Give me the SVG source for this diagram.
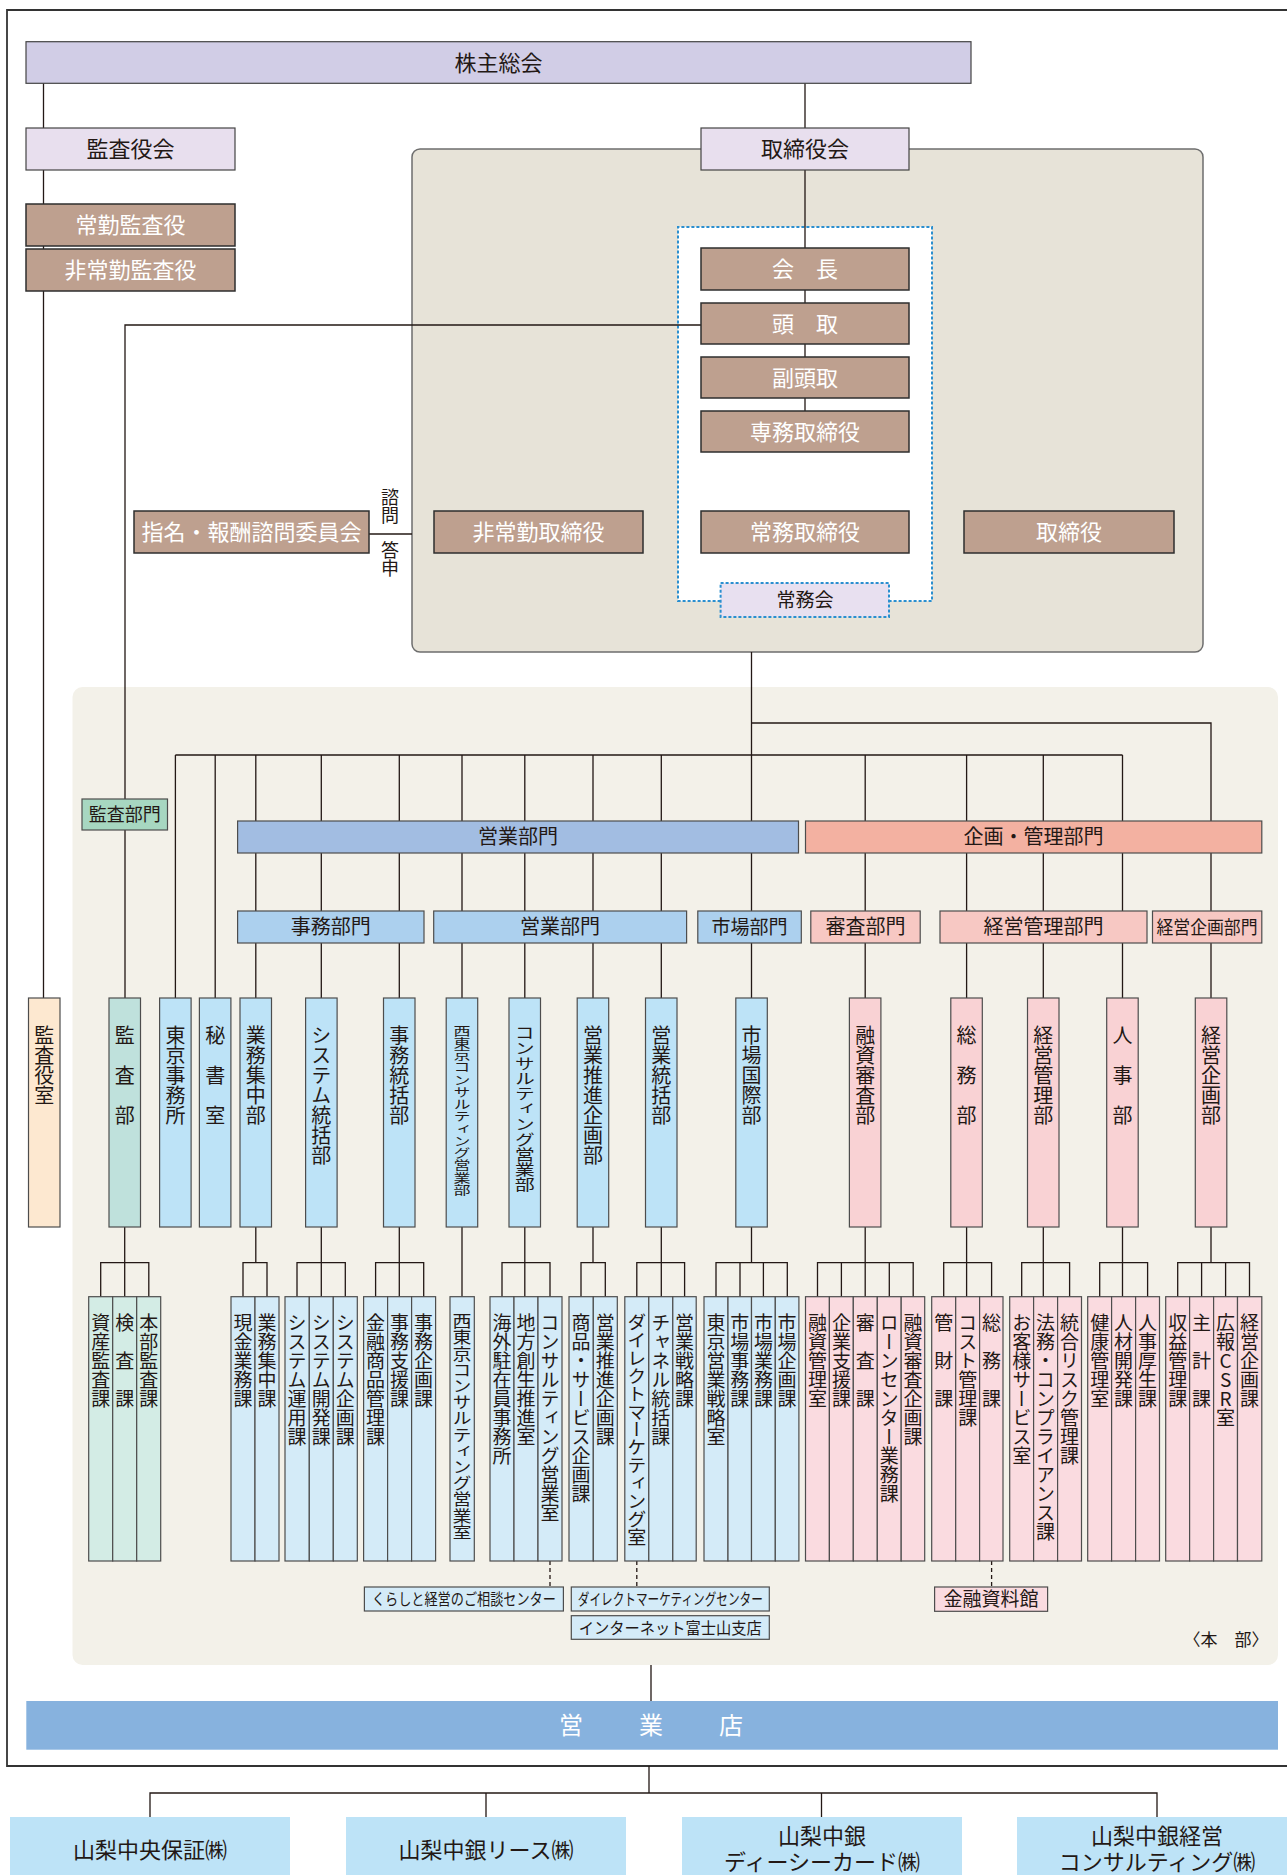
<svg xmlns="http://www.w3.org/2000/svg" width="1287" height="1875" viewBox="0 0 1287 1875">
<style>
text{font-family:"Noto Sans CJK JP","Noto Sans CJK SC",sans-serif;fill:#231815}
.h{text-anchor:middle}
.w{fill:#fff}
.t22{font-size:22px}
.t20{font-size:20px}
.v{writing-mode:vertical-rl;text-orientation:upright}
.d{font-size:20px}
.s{font-size:19px}
.ln{fill:none;stroke:#231815;stroke-width:1.3}
.dash{fill:none;stroke:#231815;stroke-width:1.3;stroke-dasharray:4 3}
.brown{fill:#bea08f;stroke:#2e2e2e;stroke-width:1.5}
.lav{fill:#e8dfee;stroke:#444;stroke-width:1.2}
.lav2{fill:#d1cde6;stroke:#444;stroke-width:1.2}
.bd{fill:#bde3f7;stroke:#4d4d4d;stroke-width:1.2}
.pd{fill:#f9d2d4;stroke:#4d4d4d;stroke-width:1.2}
.td{fill:#bfe1dc;stroke:#4d4d4d;stroke-width:1.2}
.ed{fill:#fde8d0;stroke:#4d4d4d;stroke-width:1.2}
.bs{fill:#d4ebf8;stroke:#4d4d4d;stroke-width:1.2}
.ps{fill:#fadbe0;stroke:#4d4d4d;stroke-width:1.2}
.ts{fill:#d3ece5;stroke:#4d4d4d;stroke-width:1.2}
.bl{fill:#acd0ee;stroke:#4d4d4d;stroke-width:1.2}
.pl{fill:#f7c8c3;stroke:#4d4d4d;stroke-width:1.2}
.sub{fill:#bde3f7}
</style>
<rect width="1287" height="1875" fill="#fff"/>
<!-- frame and panels -->
<g id="background">
<path d="M1300 10 H7 V1766 H1300" fill="none" stroke="#333" stroke-width="1.8"/>
<rect x="412" y="149" width="791" height="503" rx="8" fill="#e7e3d8" stroke="#6e6e6e" stroke-width="1.5"/>
<rect x="678" y="227" width="254" height="374" fill="#fff"/>
<path d="M720.6 601 H678 V227 H932 V601 H889" fill="none" stroke="#2a8fd0" stroke-width="2" stroke-dasharray="3 2"/>
<rect x="72.5" y="687" width="1205.5" height="978" rx="10" fill="#f3f1e9"/>
</g>
<g id="connectors">
<path class="ln" d="M43.5 83 V998 M805 83 V411 M701 325 H125 V998"/>
<path class="ln" d="M369 534 H412" stroke-width="2.5"/>
<path class="ln" d="M751.5 652 V998 M751.5 723 H1211 V998 M175.4 755 H1122.5 M175.4 755 V998 M215.2 755 V998 M255.8 755 V998 M321.3 755 V998 M399.3 755 V998 M462 755 V998 M524.8 755 V998 M593 755 V998 M661.3 755 V998 M865.2 755 V998 M966.6 755 V998 M1043.3 755 V998 M1122.5 755 V998"/>
<!-- section brackets -->
<path class="ln" d="M124.7 1227 V1296.7 M100.7 1296.7 V1262.7 H148.8 V1296.7"/>
<path class="ln" d="M255.8 1227 V1262.7 M243 1296.7 V1262.7 H267 V1296.7"/>
<path class="ln" d="M321.3 1227 V1296.7 M297 1296.7 V1262.7 H345.3 V1296.7"/>
<path class="ln" d="M399.3 1227 V1296.7 M375.6 1296.7 V1262.7 H423.7 V1296.7"/>
<path class="ln" d="M462 1227 V1296.7"/>
<path class="ln" d="M524.8 1227 V1296.7 M502 1296.7 V1262.7 H550 V1296.7"/>
<path class="ln" d="M593 1227 V1262.7 M581 1296.7 V1262.7 H605.3 V1296.7"/>
<path class="ln" d="M661.3 1227 V1296.7 M636.8 1296.7 V1262.7 H684.6 V1296.7"/>
<path class="ln" d="M751.5 1227 V1262.7 M716 1296.7 V1262.7 H787.3 V1296.7 M740 1262.7 V1296.7 M763.4 1262.7 V1296.7"/>
<path class="ln" d="M865.2 1227 V1296.7 M817.5 1296.7 V1262.7 H913.2 V1296.7 M841.4 1262.7 V1296.7 M889.3 1262.7 V1296.7"/>
<path class="ln" d="M966.6 1227 V1296.7 M943.7 1296.7 V1262.7 H991.6 V1296.7"/>
<path class="ln" d="M1043.3 1227 V1296.7 M1021.7 1296.7 V1262.7 H1069.6 V1296.7"/>
<path class="ln" d="M1122.5 1227 V1296.7 M1099.7 1296.7 V1262.7 H1147.6 V1296.7"/>
<path class="ln" d="M1211 1227 V1262.7 M1177.7 1296.7 V1262.7 H1249.5 V1296.7 M1201.6 1262.7 V1296.7 M1225.6 1262.7 V1296.7"/>
<path class="dash" d="M550 1561 V1587 M636.8 1561 V1587 M991.6 1561 V1587"/>
<path class="ln" d="M651 1665 V1701 M649 1766 V1793 M150 1817 V1793 H1157 V1817 M486 1793 V1817 M821.5 1793 V1817"/>
</g>
<!-- top governance -->
<g id="n-kabunushi"><rect class="lav2" x="26" y="41.7" width="945" height="41.6"/><text class="h t22" x="498.5" y="70.5">株主総会</text></g>
<g id="n-kansayakukai"><rect class="lav" x="26" y="128" width="209" height="42"/><text class="h t22" x="130.5" y="157">監査役会</text></g>
<g id="n-torishimariyakukai"><rect class="lav" x="701" y="128" width="208" height="42"/><text class="h t22" x="805" y="157">取締役会</text></g>
<g id="n-joukin-kansayaku"><rect class="brown" x="26" y="204" width="209" height="42"/><text class="h t22 w" x="130.5" y="233">常勤監査役</text></g>
<g id="n-hijoukin-kansayaku"><rect class="brown" x="26" y="249" width="209" height="42"/><text class="h t22 w" x="130.5" y="278">非常勤監査役</text></g>
<g id="n-kaichou"><rect class="brown" x="701" y="248" width="208" height="42"/><text class="h t22 w" x="805" y="277">会　長</text></g>
<g id="n-toudori"><rect class="brown" x="701" y="303" width="208" height="41"/><text class="h t22 w" x="805" y="331.5">頭　取</text></g>
<g id="n-fukutoudori"><rect class="brown" x="701" y="357" width="208" height="41"/><text class="h t22 w" x="805" y="385.5">副頭取</text></g>
<g id="n-senmu"><rect class="brown" x="701" y="411" width="208" height="41"/><text class="h t22 w" x="805" y="439.5">専務取締役</text></g>
<g id="n-shimei"><rect class="brown" x="134" y="511" width="235" height="42"/><text class="h t22 w" x="251.5" y="540">指名・報酬諮問委員会</text></g>
<g id="n-hijoukin-tori"><rect class="brown" x="434" y="511" width="209" height="42"/><text class="h t22 w" x="538.5" y="540">非常勤取締役</text></g>
<g id="n-joumu-tori"><rect class="brown" x="701" y="511" width="208" height="42"/><text class="h t22 w" x="805" y="540">常務取締役</text></g>
<g id="n-tori"><rect class="brown" x="964" y="511" width="210" height="42"/><text class="h t22 w" x="1069" y="540">取締役</text></g>
<g id="lbl-shimon"><text class="v" style="font-size:18px" x="390" y="488">諮問</text><text class="v" style="font-size:18px" x="390" y="541">答申</text></g>
<g id="n-joumukai"><rect x="720.6" y="583" width="168.4" height="34" fill="#e8e0f0" stroke="#2a8fd0" stroke-width="2" stroke-dasharray="3 2"/><text class="h" style="font-size:19px" x="805" y="607">常務会</text></g>
<!-- division bars -->
<g id="n-kansabumon"><rect x="82" y="799" width="85.5" height="31" fill="#a7d7c1" stroke="#4d4d4d" stroke-width="1.2"/><text class="h" style="font-size:18px" x="124.7" y="821">監査部門</text></g>
<g id="n-eigyoubumon"><rect x="237.6" y="821" width="560.9" height="32" fill="#a2bde2" stroke="#4d4d4d" stroke-width="1.2"/><text class="h t20" x="518" y="844">営業部門</text></g>
<g id="n-kikakukanri"><rect x="805.5" y="821" width="456.3" height="32" fill="#f3b1a1" stroke="#4d4d4d" stroke-width="1.2"/><text class="h t20" x="1033.6" y="844">企画・管理部門</text></g>
<g id="n-jimubumon"><rect class="bl" x="237.6" y="911" width="186.4" height="32"/><text class="h t20" x="330.8" y="934">事務部門</text></g>
<g id="n-eigyoubumon2"><rect class="bl" x="433.7" y="911" width="252.9" height="32"/><text class="h t20" x="560" y="934">営業部門</text></g>
<g id="n-shijoubumon"><rect class="bl" x="697.8" y="911" width="103.5" height="32"/><text class="h" style="font-size:19px" x="749.5" y="934">市場部門</text></g>
<g id="n-shinsabumon"><rect class="pl" x="810.8" y="911" width="109.4" height="32"/><text class="h t20" x="865.5" y="934">審査部門</text></g>
<g id="n-keieikanribumon"><rect class="pl" x="940" y="911" width="207" height="32"/><text class="h t20" x="1043.5" y="934">経営管理部門</text></g>
<g id="n-keieikikakubumon"><rect class="pl" x="1152.5" y="911" width="109.3" height="32"/><text class="h" style="font-size:18px" x="1207" y="934" textLength="101" lengthAdjust="spacingAndGlyphs">経営企画部門</text></g>
<!-- departments -->
<g id="n-kansayakushitsu"><rect class="ed" x="28.5" y="998" width="31.5" height="229"/><text class="v d" x="44.3" y="1025">監査役室</text></g>
<g id="n-kansabu"><rect class="td" x="109" y="998" width="31.5" height="229"/><text class="v d" x="124.7" y="1025">監　査　部</text></g>
<g id="n-tokyojimusho"><rect class="bd" x="159.6" y="998" width="31.5" height="229"/><text class="v d" x="175.4" y="1025">東京事務所</text></g>
<g id="n-hishoshitsu"><rect class="bd" x="199.4" y="998" width="31.5" height="229"/><text class="v d" x="215.2" y="1025">秘　書　室</text></g>
<g id="n-gyoumushuuchuubu"><rect class="bd" x="240" y="998" width="31.5" height="229"/><text class="v d" x="255.8" y="1025">業務集中部</text></g>
<g id="n-systemtoukatsubu"><rect class="bd" x="305.6" y="998" width="31.5" height="229"/><text class="v d" x="321.3" y="1025">システム統括部</text></g>
<g id="n-jimutoukatsubu"><rect class="bd" x="383.5" y="998" width="31.5" height="229"/><text class="v d" x="399.3" y="1025">事務統括部</text></g>
<g id="n-nishitokyo"><rect class="bd" x="446.2" y="998" width="31.5" height="229"/><text class="v" style="font-size:17px" transform="translate(462,1025) scale(1,0.72)" x="0" y="0">西東京コンサルティング営業部</text></g>
<g id="n-consulbu"><rect class="bd" x="509" y="998" width="31.5" height="229"/><text class="v" style="font-size:20px" transform="translate(524.8,1025) scale(1,0.76)" x="0" y="0">コンサルティング営業部</text></g>
<g id="n-eigyousuishin"><rect class="bd" x="577.2" y="998" width="31.5" height="229"/><text class="v d" x="593" y="1025">営業推進企画部</text></g>
<g id="n-eigyoutoukatsu"><rect class="bd" x="645.5" y="998" width="31.5" height="229"/><text class="v d" x="661.3" y="1025">営業統括部</text></g>
<g id="n-shijoukokusai"><rect class="bd" x="735.8" y="998" width="31.5" height="229"/><text class="v d" x="751.5" y="1025">市場国際部</text></g>
<g id="n-yuushishinsa"><rect class="pd" x="849.4" y="998" width="31.5" height="229"/><text class="v d" x="865.2" y="1025">融資審査部</text></g>
<g id="n-soumubu"><rect class="pd" x="950.8" y="998" width="31.5" height="229"/><text class="v d" x="966.6" y="1025">総　務　部</text></g>
<g id="n-keieikanribu"><rect class="pd" x="1027.5" y="998" width="31.5" height="229"/><text class="v d" x="1043.3" y="1025">経営管理部</text></g>
<g id="n-jinjibu"><rect class="pd" x="1106.7" y="998" width="31.5" height="229"/><text class="v d" x="1122.5" y="1025">人　事　部</text></g>
<g id="n-keieikikakubu"><rect class="pd" x="1195.3" y="998" width="31.5" height="229"/><text class="v d" x="1211" y="1025">経営企画部</text></g>
<!-- sections -->
<g id="sections">
<g id="n-s1"><rect class="ts" x="88.7" y="1296.7" width="24" height="264.3"/><text class="v s" x="100.7" y="1313">資産監査課</text></g>
<g id="n-s2"><rect class="ts" x="112.7" y="1296.7" width="24" height="264.3"/><text class="v s" x="124.7" y="1313">検　査　課</text></g>
<g id="n-s3"><rect class="ts" x="136.7" y="1296.7" width="24" height="264.3"/><text class="v s" x="148.7" y="1313">本部監査課</text></g>
<g id="n-s4"><rect class="bs" x="231" y="1296.7" width="24" height="264.3"/><text class="v s" x="243" y="1313">現金業務課</text></g>
<g id="n-s5"><rect class="bs" x="255" y="1296.7" width="24" height="264.3"/><text class="v s" x="267" y="1313">業務集中課</text></g>
<g id="n-s6"><rect class="bs" x="285" y="1296.7" width="24.3" height="264.3"/><text class="v s" x="297.1" y="1313">システム運用課</text></g>
<g id="n-s7"><rect class="bs" x="309.3" y="1296.7" width="24" height="264.3"/><text class="v s" x="321.3" y="1313">システム開発課</text></g>
<g id="n-s8"><rect class="bs" x="333.3" y="1296.7" width="24" height="264.3"/><text class="v s" x="345.3" y="1313">システム企画課</text></g>
<g id="n-s9"><rect class="bs" x="363.6" y="1296.7" width="24" height="264.3"/><text class="v s" x="375.6" y="1313">金融商品管理課</text></g>
<g id="n-s10"><rect class="bs" x="387.6" y="1296.7" width="24" height="264.3"/><text class="v s" x="399.6" y="1313">事務支援課</text></g>
<g id="n-s11"><rect class="bs" x="411.6" y="1296.7" width="24" height="264.3"/><text class="v s" x="423.6" y="1313">事務企画課</text></g>
<g id="n-s12"><rect class="bs" x="450" y="1296.7" width="24.3" height="264.3"/><text class="v" style="font-size:19px" transform="translate(462.1,1313) scale(1,0.853)" x="0" y="0">西東京コンサルティング営業室</text></g>
<g id="n-s13"><rect class="bs" x="490" y="1296.7" width="24" height="264.3"/><text class="v s" x="502" y="1313">海外駐在員事務所</text></g>
<g id="n-s14"><rect class="bs" x="514" y="1296.7" width="24" height="264.3"/><text class="v s" x="526" y="1313">地方創生推進室</text></g>
<g id="n-s15"><rect class="bs" x="538" y="1296.7" width="24" height="264.3"/><text class="v s" x="550" y="1313">コンサルティング営業室</text></g>
<g id="n-s16"><rect class="bs" x="569" y="1296.7" width="24.3" height="264.3"/><text class="v s" x="581.1" y="1313">商品・サービス企画課</text></g>
<g id="n-s17"><rect class="bs" x="593.3" y="1296.7" width="24" height="264.3"/><text class="v s" x="605.3" y="1313">営業推進企画課</text></g>
<g id="n-s18"><rect class="bs" x="624.8" y="1296.7" width="24" height="264.3"/><text class="v" style="font-size:19px" transform="translate(636.8,1313) scale(1,0.945)" x="0" y="0">ダイレクトマーケティング室</text></g>
<g id="n-s19"><rect class="bs" x="648.8" y="1296.7" width="24" height="264.3"/><text class="v s" x="660.8" y="1313">チャネル統括課</text></g>
<g id="n-s20"><rect class="bs" x="672.8" y="1296.7" width="23.4" height="264.3"/><text class="v s" x="684.5" y="1313">営業戦略課</text></g>
<g id="n-s21"><rect class="bs" x="704" y="1296.7" width="24" height="264.3"/><text class="v s" x="716" y="1313">東京営業戦略室</text></g>
<g id="n-s22"><rect class="bs" x="728" y="1296.7" width="23.5" height="264.3"/><text class="v s" x="739.8" y="1313">市場事務課</text></g>
<g id="n-s23"><rect class="bs" x="751.5" y="1296.7" width="23.8" height="264.3"/><text class="v s" x="763.4" y="1313">市場業務課</text></g>
<g id="n-s24"><rect class="bs" x="775.3" y="1296.7" width="23.6" height="264.3"/><text class="v s" x="787.1" y="1313">市場企画課</text></g>
<g id="n-s25"><rect class="ps" x="805.5" y="1296.7" width="23.9" height="264.3"/><text class="v s" x="817.5" y="1313">融資管理室</text></g>
<g id="n-s26"><rect class="ps" x="829.4" y="1296.7" width="23.9" height="264.3"/><text class="v s" x="841.4" y="1313">企業支援課</text></g>
<g id="n-s27"><rect class="ps" x="853.3" y="1296.7" width="24" height="264.3"/><text class="v s" x="865.3" y="1313">審　査　課</text></g>
<g id="n-s28"><rect class="ps" x="877.3" y="1296.7" width="23.9" height="264.3"/><text class="v s" x="889.3" y="1313">ローンセンター業務課</text></g>
<g id="n-s29"><rect class="ps" x="901.2" y="1296.7" width="23.5" height="264.3"/><text class="v s" x="913" y="1313">融資審査企画課</text></g>
<g id="n-s30"><rect class="ps" x="931.7" y="1296.7" width="24" height="264.3"/><text class="v s" x="943.7" y="1313">管　財　課</text></g>
<g id="n-s31"><rect class="ps" x="955.7" y="1296.7" width="23.9" height="264.3"/><text class="v s" x="967.7" y="1313">コスト管理課</text></g>
<g id="n-s32"><rect class="ps" x="979.6" y="1296.7" width="23.4" height="264.3"/><text class="v s" x="991.4" y="1313">総　務　課</text></g>
<g id="n-s33"><rect class="ps" x="1009.7" y="1296.7" width="23.9" height="264.3"/><text class="v s" x="1021.7" y="1313">お客様サービス室</text></g>
<g id="n-s34"><rect class="ps" x="1033.6" y="1296.7" width="24" height="264.3"/><text class="v s" x="1045.6" y="1313">法務・コンプライアンス課</text></g>
<g id="n-s35"><rect class="ps" x="1057.6" y="1296.7" width="23.9" height="264.3"/><text class="v s" x="1069.6" y="1313">統合リスク管理課</text></g>
<g id="n-s36"><rect class="ps" x="1087.7" y="1296.7" width="23.9" height="264.3"/><text class="v s" x="1099.7" y="1313">健康管理室</text></g>
<g id="n-s37"><rect class="ps" x="1111.6" y="1296.7" width="24" height="264.3"/><text class="v s" x="1123.6" y="1313">人材開発課</text></g>
<g id="n-s38"><rect class="ps" x="1135.6" y="1296.7" width="23.9" height="264.3"/><text class="v s" x="1147.6" y="1313">人事厚生課</text></g>
<g id="n-s39"><rect class="ps" x="1165.7" y="1296.7" width="23.9" height="264.3"/><text class="v s" x="1177.7" y="1313">収益管理課</text></g>
<g id="n-s40"><rect class="ps" x="1189.6" y="1296.7" width="24" height="264.3"/><text class="v s" x="1201.6" y="1313">主　計　課</text></g>
<g id="n-s41"><rect class="ps" x="1213.6" y="1296.7" width="23.9" height="264.3"/><text class="v s" x="1225.6" y="1313">広報CSR室</text></g>
<g id="n-s42"><rect class="ps" x="1237.5" y="1296.7" width="24.3" height="264.3"/><text class="v s" x="1249.6" y="1313">経営企画課</text></g>
</g>
<!-- extra offices -->
<g id="n-kurashi"><rect class="bs" x="364.4" y="1587" width="199" height="24"/><text class="h" style="font-size:16px" x="463.9" y="1605" textLength="184" lengthAdjust="spacingAndGlyphs">くらしと経営のご相談センター</text></g>
<g id="n-dmcenter"><rect class="bs" x="571.3" y="1587" width="198" height="24"/><text class="h" style="font-size:16px" x="670.3" y="1605" textLength="185" lengthAdjust="spacingAndGlyphs">ダイレクトマーケティングセンター</text></g>
<g id="n-internet"><rect class="bs" x="571.3" y="1615.7" width="198" height="23.6"/><text class="h" style="font-size:16px" x="670.3" y="1633.5" textLength="183" lengthAdjust="spacingAndGlyphs">インターネット富士山支店</text></g>
<g id="n-shiryoukan"><rect class="ps" x="934.6" y="1587" width="113" height="24.3"/><text class="h" style="font-size:19px" x="991.1" y="1606">金融資料館</text></g>
<text class="h" style="font-size:17px" x="1226" y="1646">〈本　部〉</text>
<!-- branches -->
<g id="n-eigyouten"><rect x="26.3" y="1701" width="1251.7" height="48.7" fill="#87b2de"/><text class="h w" style="font-size:24px" x="571 651 731" y="1734">営業店</text></g>
<!-- subsidiaries -->
<g id="n-hoshou"><rect class="sub" x="10" y="1817" width="280" height="70"/><text class="h t22" x="150" y="1858">山梨中央保証㈱</text></g>
<g id="n-lease"><rect class="sub" x="346" y="1817" width="280" height="70"/><text class="h t22" x="486" y="1858">山梨中銀リース㈱</text></g>
<g id="n-dccard"><rect class="sub" x="682" y="1817" width="280" height="70"/><text class="h t22"><tspan x="822" y="1844">山梨中銀</tspan><tspan x="822" y="1870">ディーシーカード㈱</tspan></text></g>
<g id="n-consulting"><rect class="sub" x="1017" y="1817" width="280" height="70"/><text class="h t22"><tspan x="1157" y="1844">山梨中銀経営</tspan><tspan x="1157" y="1870">コンサルティング㈱</tspan></text></g>
</svg>
